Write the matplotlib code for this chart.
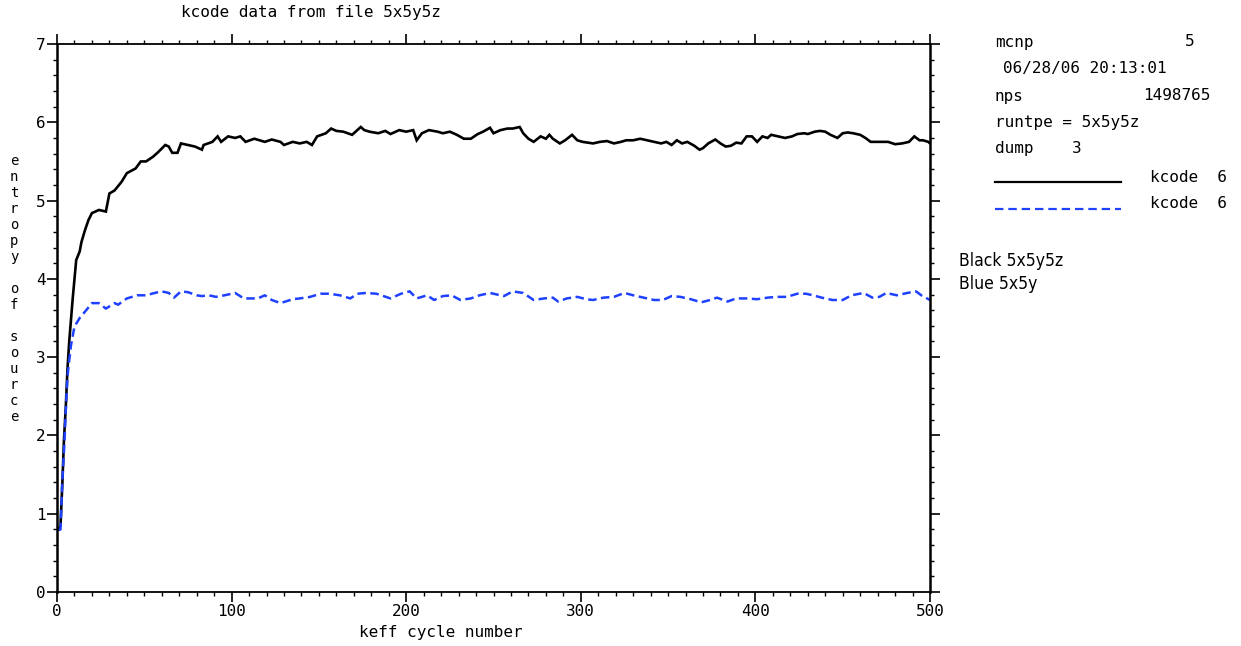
import matplotlib
matplotlib.use("Agg")
import matplotlib.pyplot as plt
from matplotlib.ticker import MultipleLocator
from matplotlib.lines import Line2D

# ---------------- data ----------------
black_cycle = [1, 2, 3, 4, 5, 6, 7, 8, 9, 10, 11, 13, 14, 16, 18, 20, 24, 28, 30, 33,
               37, 40, 45, 48, 51, 55, 58, 62, 64, 66, 69, 71, 75, 79, 83, 84, 89, 92,
               94, 98, 102, 105, 108, 113, 119, 123, 128, 130, 135, 139, 143, 146, 149,
               154, 157, 160, 164, 169, 174, 176, 179, 184, 188, 191, 196, 200, 204, 206,
               209, 213, 218, 221, 225, 229, 233, 237, 241, 244, 248, 250, 254, 258, 261,
               265, 267, 270, 273, 277, 280, 282, 284, 288, 291, 295, 298, 301, 307, 311,
               315, 319, 323, 326, 330, 334, 338, 342, 346, 349, 352, 355, 358, 361, 365,
               368, 370, 373, 377, 380, 383, 386, 389, 392, 395, 398, 401, 404, 407, 409,
               413, 417, 421, 424, 428, 430, 434, 437, 440, 443, 445, 447, 450, 453, 456,
               460, 463, 466, 469, 473, 476, 480, 484, 488, 491, 494, 496, 499, 500]
black_entropy = [0.80, 0.85, 1.35, 1.95, 2.35, 2.85, 3.20, 3.47, 3.75, 3.99, 4.24, 4.35, 4.47, 4.62,
                 4.75, 4.84, 4.88, 4.86, 5.09, 5.13, 5.24, 5.35, 5.41, 5.50, 5.50, 5.56, 5.62,
                 5.71, 5.69, 5.61, 5.61, 5.73, 5.71, 5.69, 5.65, 5.71, 5.75, 5.82, 5.75, 5.82,
                 5.80, 5.82, 5.75, 5.79, 5.75, 5.78, 5.75, 5.71, 5.75, 5.73, 5.75, 5.71, 5.82,
                 5.86, 5.92, 5.89, 5.88, 5.84, 5.94, 5.90, 5.88, 5.86, 5.89, 5.85, 5.90, 5.88,
                 5.90, 5.77, 5.86, 5.90, 5.88, 5.86, 5.88, 5.84, 5.79, 5.79, 5.85, 5.88, 5.93,
                 5.86, 5.90, 5.92, 5.92, 5.94, 5.86, 5.79, 5.75, 5.82, 5.79, 5.84, 5.79, 5.73,
                 5.77, 5.84, 5.77, 5.75, 5.73, 5.75, 5.76, 5.73, 5.75, 5.77, 5.77, 5.79, 5.77,
                 5.75, 5.73, 5.75, 5.71, 5.77, 5.73, 5.75, 5.70, 5.65, 5.67, 5.73, 5.78, 5.73,
                 5.69, 5.70, 5.74, 5.73, 5.82, 5.82, 5.75, 5.82, 5.80, 5.84, 5.82, 5.80, 5.82,
                 5.85, 5.86, 5.85, 5.88, 5.89, 5.88, 5.84, 5.82, 5.80, 5.86, 5.87, 5.86, 5.84,
                 5.80, 5.75, 5.75, 5.75, 5.75, 5.72, 5.73, 5.75, 5.82, 5.77, 5.77, 5.75, 5.73]

blue_cycle = [1, 2, 3, 4, 5, 6, 7, 8, 10, 13, 16, 20, 24, 28, 33, 35, 40, 46, 51, 56, 60,
              64, 67, 71, 75, 80, 83, 87, 91, 96, 102, 107, 112, 115, 119, 123, 128, 135,
              139, 145, 151, 156, 162, 168, 172, 177, 183, 187, 191, 197, 202, 206, 212,
              216, 221, 226, 231, 237, 242, 248, 256, 261, 267, 273, 279, 284, 287, 292,
              298, 303, 307, 313, 319, 325, 330, 336, 342, 347, 352, 357, 363, 369, 374,
              378, 384, 389, 395, 401, 407, 412, 418, 424, 429, 433, 438, 444, 450, 455,
              462, 467, 471, 475, 481, 487, 492, 495, 500]
blue_entropy = [0.79, 0.80, 1.40, 1.80, 2.30, 2.75, 2.96, 3.15, 3.39, 3.50, 3.58, 3.69, 3.69,
                3.62, 3.69, 3.67, 3.75, 3.79, 3.79, 3.82, 3.84, 3.82, 3.76, 3.84, 3.83, 3.79,
                3.78, 3.79, 3.77, 3.79, 3.82, 3.75, 3.75, 3.75, 3.79, 3.73, 3.69, 3.74, 3.75,
                3.77, 3.81, 3.81, 3.79, 3.75, 3.81, 3.82, 3.81, 3.78, 3.75, 3.81, 3.84, 3.75,
                3.79, 3.73, 3.78, 3.79, 3.73, 3.75, 3.79, 3.82, 3.78, 3.84, 3.82, 3.73, 3.75,
                3.76, 3.71, 3.75, 3.77, 3.74, 3.73, 3.76, 3.77, 3.82, 3.79, 3.76, 3.73, 3.73,
                3.78, 3.77, 3.74, 3.70, 3.73, 3.76, 3.71, 3.75, 3.75, 3.74, 3.76, 3.77, 3.77,
                3.81, 3.81, 3.79, 3.76, 3.73, 3.73, 3.79, 3.82, 3.76, 3.77, 3.82, 3.79, 3.82,
                3.84, 3.79, 3.73]

x_ticks = [0, 100, 200, 300, 400, 500]
y_ticks = [0, 1, 2, 3, 4, 5, 6, 7]

title_text = "kcode data from file 5x5y5z"
xlabel_text = "keff cycle number"
ylabel_text = "entropy of source"
info_lines = [("mcnp", "5"), ("06/28/06 20:13:01", None), ("nps", "1498765"),
              ("runtpe = 5x5y5z", None), ("dump    3", None)]
legend_labels = ["kcode  6", "kcode  6"]
note_lines = ["Black 5x5y5z", "Blue 5x5y"]

# ---------------- figure ----------------
W, H = 1241, 646
fig = plt.figure(figsize=(W / 100, H / 100), dpi=100)
fig.patch.set_facecolor("white")

def fx(px):
    return px / W

def fy(py):
    return 1 - py / H

ax = fig.add_axes([fx(57), fy(592), fx(930) - fx(57), fy(44) - fy(592)])

BLUE = "#1e40ff"
mono = "DejaVu Sans Mono"
FS = 11.5

ax.plot(black_cycle, black_entropy, color="black", lw=1.9, solid_joinstyle="miter")
ax.plot(blue_cycle, blue_entropy, color=BLUE, lw=1.8, dashes=(3.4, 1.8))

ax.set_xlim(0, 500)
ax.set_ylim(0, 7)
ax.set_xticks(x_ticks)
ax.set_yticks(y_ticks)
ax.xaxis.set_minor_locator(MultipleLocator(10))
ax.yaxis.set_minor_locator(MultipleLocator(0.2))
ax.tick_params(which="both", direction="out", top=True, right=True,
               labeltop=False, labelright=False, color="black")
ax.tick_params(which="major", length=7, width=1.2, labelsize=FS)
ax.tick_params(which="minor", length=3, width=1.0)
ax.tick_params(axis="x", which="major", pad=2)
ax.tick_params(axis="y", which="major", pad=1)
for lab in ax.get_xticklabels() + ax.get_yticklabels():
    lab.set_fontfamily(mono)
for s in ax.spines.values():
    s.set_linewidth(1.3)
ax.spines["left"].set_linewidth(1.8)
ax.spines["right"].set_linewidth(1.8)

# title, axis labels
fig.text(fx(181), fy(13), title_text, family=mono, fontsize=FS, ha="left", va="center")
fig.text(fx(441), fy(633), xlabel_text, family=mono, fontsize=FS, ha="center", va="center")
fig.text(fx(14), fy(289), "\n".join(ylabel_text), family=mono, fontsize=10,
         ha="center", va="center", linespacing=1.18)

# info block on the right
ypos = [42, 69, 96, 123, 149]
for (left, right), yy in zip(info_lines, ypos):
    xl = 1003 if left.startswith("06") else 995
    fig.text(fx(xl), fy(yy), left, family=mono, fontsize=FS, ha="left", va="center")
    if right is not None:
        fig.text(fx(1210) if len(right) > 1 else fx(1194), fy(yy), right, family=mono,
                 fontsize=FS, ha="right", va="center")

# legend lines
fig.add_artist(Line2D([fx(995), fx(1121)], [fy(182), fy(182)], color="black", lw=1.6))
fig.add_artist(Line2D([fx(995), fx(1121)], [fy(209), fy(209)], color=BLUE, lw=1.6,
                      dashes=(3.8, 2.2)))
fig.text(fx(1150), fy(177), legend_labels[0], family=mono, fontsize=FS, ha="left", va="center")
fig.text(fx(1150), fy(204), legend_labels[1], family=mono, fontsize=FS, ha="left", va="center")

# notes
for txt, yy in zip(note_lines, [261, 284]):
    fig.text(fx(959), fy(yy), txt, family="DejaVu Sans", fontstretch="condensed",
             fontsize=12.5, ha="left", va="center")

fig.savefig("out.png", dpi=100, facecolor="white")
